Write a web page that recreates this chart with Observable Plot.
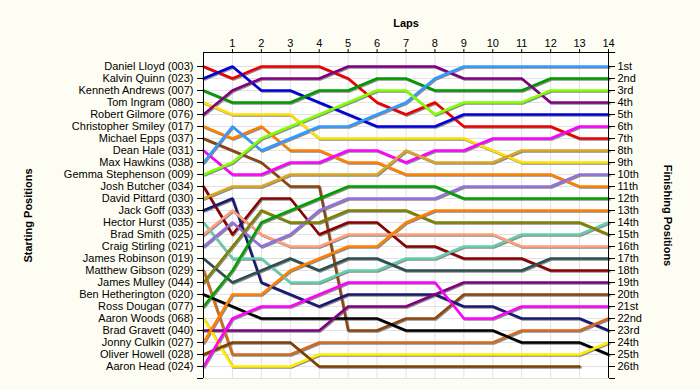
<!DOCTYPE html>
<html>
<head>
<meta charset="utf-8">
<script src="https://cdn.jsdelivr.net/npm/d3@7"></script>
<script src="https://cdn.jsdelivr.net/npm/@observablehq/plot@0.6"></script>
<style>
  html, body { margin: 0; padding: 0; background: #fdfdf3; }
</style>
</head>
<body>
<div id="chart"></div>
<script>
const laps = [0,1,2,3,4,5,6,7,8,9,10,11,12,13,14];

const drivers = [
  "Daniel Lloyd (003)", "Kalvin Quinn (023)", "Kenneth Andrews (007)", "Tom Ingram (080)",
  "Robert Gilmore (076)", "Christopher Smiley (017)", "Michael Epps (037)", "Dean Hale (031)",
  "Max Hawkins (038)", "Gemma Stephenson (009)", "Josh Butcher (034)", "David Pittard (030)",
  "Jack Goff (033)", "Hector Hurst (035)", "Brad Smith (025)", "Craig Stirling (021)",
  "James Robinson (019)", "Matthew Gibson (029)", "James Mulley (044)", "Ben Hetherington (020)",
  "Ross Dougan (077)", "Aaron Woods (068)", "Brad Gravett (040)", "Jonny Culkin (027)",
  "Oliver Howell (028)", "Aaron Head (024)"
];

const finishLabels = [
  "1st","2nd","3rd","4th","5th","6th","7th","8th","9th","10th","11th","12th","13th",
  "14th","15th","16th","17th","18th","19th","20th","21st","22nd","23rd","24th","25th","26th"
];

// race position of each driver at laps 0..14 (same order as drivers)
const lapPositions = [
  [1,2,1,1,1,2,4,5,4,6,6,6,6,7,7],
  [2,1,3,3,4,5,6,6,6,5,5,5,5,5,5],
  [3,4,4,4,3,3,2,2,3,3,3,3,2,2,2],
  [4,5,5,5,7,7,7,7,7,7,8,9,9,9,9],
  [5,3,2,2,2,1,1,1,1,2,2,2,4,4,4],
  [6,7,6,8,8,9,9,10,10,10,10,10,10,11,11],
  [7,8,9,11,11,23,23,22,22,20,20,20,20,20,20],
  [8,10,10,9,9,8,8,9,8,8,7,7,7,6,6],
  [9,6,8,7,6,6,5,4,2,1,1,1,1,1,1],
  [10,9,7,6,5,4,3,3,5,4,4,4,3,3,3],
  [11,15,12,12,15,14,14,16,16,17,17,17,18,18,18],
  [12,11,11,10,10,10,10,8,9,9,9,8,8,8,8],
  [13,12,19,20,21,20,20,20,20,21,21,22,22,22,23],
  [14,17,17,19,19,18,18,17,17,16,16,15,15,15,14],
  [15,13,15,16,16,15,15,15,15,15,15,16,16,16,16],
  [16,14,16,15,13,12,12,12,12,11,11,11,11,10,10],
  [17,19,18,17,18,17,17,18,18,18,18,18,17,17,17],
  [18,25,25,25,24,24,24,24,24,24,24,23,23,23,22],
  [19,16,13,14,14,13,13,13,14,14,14,14,14,14,15],
  [20,21,22,22,22,22,22,23,23,23,23,24,24,24,25],
  [21,18,14,13,12,11,11,11,11,12,12,12,12,12,12],
  [22,26,26,26,25,25,25,25,25,25,25,25,25,25,24],
  [23,23,23,23,23,21,21,21,20,19,19,19,19,19,19],
  [24,20,20,18,17,16,16,14,13,13,13,13,13,13,13],
  [25,24,24,24,26,26,26,26,26,26,26,26,26,26],
  [26,22,21,21,20,19,19,19,19,22,22,21,21,21,21]
];

const palette = [
  "#ee0000", "#0000dd", "#009900", "#ffe000", "#800080", "#ff8000", "#8b4513", "#ff00ff",
  "#3399ff", "#80ff00", "#8b0000", "#daa520", "#191970", "#66cdaa", "#ffa07a", "#9370db",
  "#2f4f4f", "#d2691e", "#808000", "#000000", "#00a000", "#ffee00", "#800080", "#ff8000",
  "#804000", "#ff00ff"
];

const table = drivers.flatMap((d, i) =>
  lapPositions[i].map((p, k) => ({driver: d, lap: laps[k], pos: p}))
);

const positionTicks = d3.range(1, 28);
const yTop = -1 / 6;

const chart = Plot.plot({
  width: 700,
  height: 390,
  marginLeft: 203,
  marginRight: 92,
  marginTop: 52,
  marginBottom: 12,
  x: {domain: [0, 14]},
  y: {domain: [yTop, 27], reverse: true},
  color: {domain: drivers, range: palette},
  style: {
    background: "#fdfdf3",
    fontFamily: "'Liberation Sans', Arial, sans-serif",
    fontSize: "11px",
    color: "#000"
  },
  marks: [
    Plot.frame({fill: "white", stroke: null}),
    Plot.gridX(laps.slice(1), {stroke: "#e2e2e2", strokeOpacity: 1}),
    Plot.gridY(positionTicks, {stroke: "#e2e2e2", strokeOpacity: 1}),
    Plot.line(table, {x: "lap", y: "pos", z: "driver", stroke: "#8c8c8c", strokeWidth: 2.5, dx: 1, dy: 1}),
    Plot.line(table, {x: "lap", y: "pos", z: "driver", stroke: "driver", strokeWidth: 2.5}),
    Plot.ruleX([0, 14], {y1: yTop, y2: 27, stroke: "#000"}),
    Plot.ruleY([yTop], {x1: 0, x2: 14.25, stroke: "#000"}),
    Plot.axisX({anchor: "top", ticks: laps.slice(1), tickSize: 4, tickPadding: 2, label: null, fontSize: 11}),
    Plot.axisY({anchor: "left", ticks: positionTicks, tickFormat: p => drivers[p - 1] ?? "", tickSize: 6, tickPadding: 4, label: null}),
    Plot.axisY({anchor: "right", ticks: positionTicks, tickFormat: p => finishLabels[p - 1] ?? "", tickSize: 6, tickPadding: 3, label: null}),
    Plot.text(["Laps"], {frameAnchor: "top", dy: -33, fontWeight: "bold", fontSize: 11}),
    Plot.text(["Starting Positions"], {frameAnchor: "left", textAnchor: "middle", dx: -175, rotate: -90, fontWeight: "bold", fontSize: 11}),
    Plot.text(["Finishing Positions"], {frameAnchor: "right", textAnchor: "middle", dx: 59, rotate: 90, fontWeight: "bold", fontSize: 11})
  ]
});

document.getElementById("chart").appendChild(chart);
</script>
</body>
</html>
